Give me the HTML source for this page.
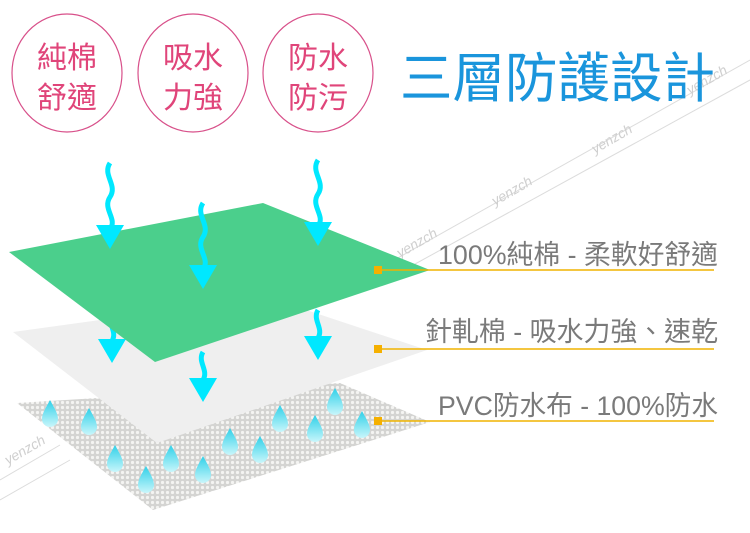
<!DOCTYPE html>
<html><head><meta charset="utf-8"><style>
html,body{margin:0;padding:0;background:#fff;}
body{width:750px;height:533px;overflow:hidden;position:relative;}
svg{position:absolute;left:0;top:0;}
text{font-family:"Liberation Sans","Noto Sans CJK TC",sans-serif;}
</style></head><body>
<svg width="750" height="533" viewBox="0 0 750 533">
<defs>
<pattern id="dots" width="5" height="5" patternUnits="userSpaceOnUse">
<rect width="5" height="5" fill="#d4d4d2"/><circle cx="2.5" cy="2.5" r="1.6" fill="#f4f4f2"/>
</pattern>
<linearGradient id="drop" x1="0" y1="0" x2="0" y2="1"><stop offset="0" stop-color="#2fd0e8"/><stop offset="1" stop-color="#c8f6fb"/></linearGradient>
<g id="d"><path d="M0,-14 C5,-5 8,0 8,5 A8,8 0 0 1 -8,5 C-8,0 -5,-5 0,-14Z" fill="url(#drop)"/></g>
<g id="arr"><path d="M0,0 C-8,12 8,22 0,34 C-8,46 8,56 0,66" fill="none" stroke="#00e8ff" stroke-width="5"/><path d="M-14,62 L14,62 L0,86Z" fill="#00e8ff"/></g>
<g id="arrs"><path d="M0,0 C-6,10 6,18 0,28" fill="none" stroke="#00e8ff" stroke-width="5"/><path d="M-14,26 L14,26 L0,50Z" fill="#00e8ff"/></g>
</defs>
<g stroke="#dcdcdc" stroke-width="1">
<line x1="380" y1="268" x2="750" y2="60"/><line x1="395" y1="275" x2="750" y2="80"/>
<line x1="0" y1="480" x2="60" y2="445"/><line x1="0" y1="500" x2="70" y2="460"/>
</g>
<g fill="#cfcfcf" font-size="14" font-style="italic">
<text x="400" y="258" transform="rotate(-30 400 258)">yenzch</text>
<text x="495" y="206" transform="rotate(-30 495 206)">yenzch</text>
<text x="595" y="154" transform="rotate(-30 595 154)">yenzch</text>
<text x="690" y="95" transform="rotate(-30 690 95)">yenzch</text>
<text x="8" y="465" transform="rotate(-30 8 465)">yenzch</text>
</g>
<polygon points="17,403 340,383 430,422 153,510" fill="url(#dots)"/>
<polygon points="13,332 267,297 427,350 157,443" fill="#efefef"/>
<use href="#arrs" x="112" y="313"/>
<use href="#arrs" x="203" y="352"/>
<use href="#arrs" x="318" y="310"/>
<polygon points="9,252 263,203 430,270 155,362" fill="#4bcf8c"/>
<use href="#arr" x="110" y="163"/>
<use href="#arr" x="203" y="203"/>
<use href="#arr" x="318" y="160"/>
<use href="#d" x="50" y="414"/><use href="#d" x="89" y="422"/><use href="#d" x="115" y="459"/>
<use href="#d" x="171" y="459"/><use href="#d" x="146" y="480"/><use href="#d" x="203" y="470"/>
<use href="#d" x="230" y="442"/><use href="#d" x="260" y="450"/><use href="#d" x="280" y="419"/>
<use href="#d" x="315" y="429"/><use href="#d" x="335" y="402"/><use href="#d" x="362" y="425"/>
<g stroke="#f0b400" stroke-width="1.5">
<line x1="378" y1="270" x2="714" y2="270"/><line x1="378" y1="349" x2="714" y2="349"/><line x1="378" y1="421" x2="714" y2="421"/>
</g>
<g fill="#f5b000"><rect x="374" y="266" width="8" height="8"/><rect x="374" y="345" width="8" height="8"/><rect x="374" y="417" width="8" height="8"/></g>
<g fill="#7a7a7a" font-size="27">
<text x="438" y="264" textLength="280" lengthAdjust="spacingAndGlyphs">100%純棉 - 柔軟好舒適</text>
<text x="425" y="341" textLength="293" lengthAdjust="spacingAndGlyphs">針軋棉 - 吸水力強、速乾</text>
<text x="438" y="415" textLength="280" lengthAdjust="spacingAndGlyphs">PVC防水布 - 100%防水</text>
</g>
<g fill="#fff" stroke="#d8508a" stroke-width="1.2">
<ellipse cx="67" cy="73" rx="55" ry="59"/><ellipse cx="193" cy="73" rx="55" ry="59"/><ellipse cx="318" cy="73" rx="55" ry="59"/>
</g>
<g fill="#e0457a" font-size="30" text-anchor="middle">
<text x="67" y="68">純棉</text><text x="67" y="108">舒適</text>
<text x="193" y="68">吸水</text><text x="193" y="108">力強</text>
<text x="318" y="68">防水</text><text x="318" y="108">防污</text>
</g>
<text x="400" y="97" fill="#1a95dc" font-size="54" textLength="315" lengthAdjust="spacingAndGlyphs">三層防護設計</text>
</svg>
</body></html>
